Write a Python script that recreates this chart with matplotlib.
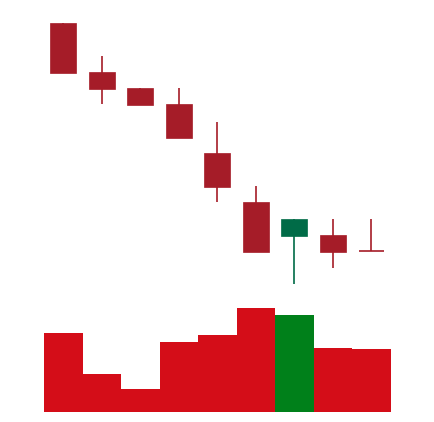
import matplotlib
matplotlib.use("Agg")
import matplotlib.pyplot as plt
import numpy as np

# Data
days = ["D1", "D2", "D3", "D4", "D5", "D6", "D7", "D8", "D9"]
opens = [39.93, 35.03, 33.43, 31.83, 26.93, 22.03, 18.60, 18.73, 17.07]
highs = [39.93, 36.63, 33.43, 33.37, 30.03, 23.57, 20.33, 20.27, 20.27]
lows = [34.93, 31.77, 31.70, 28.43, 22.03, 17.03, 13.83, 15.40, 17.07]
closes = [34.93, 33.30, 31.70, 28.43, 23.53, 17.03, 20.33, 17.00, 17.07]
volumes = [787, 377, 227, 697, 770, 1037, 967, 637, 630]

W, H = 434, 422
fig = plt.figure(figsize=(W / 100, H / 100), dpi=100)
fig.patch.set_facecolor("white")

left_px, right_px = 44, 390.7
ax_w = (right_px - left_px) / W

# price axis spans full height
ax = fig.add_axes([left_px / W, 0, ax_w, 1])
ax.set_xlim(-0.5, len(days) - 0.5)
ax.set_ylim(0, 42.2)
ax.axis("off")

# volume axis
vol_bottom_px = 422 - 411.7
vol_h_px = 110
axv = fig.add_axes([left_px / W, vol_bottom_px / H, ax_w, vol_h_px / H])
axv.set_xlim(-0.5, len(days) - 0.5)
axv.set_ylim(0, 1100)
axv.axis("off")

up_c, down_c = "#006b47", "#a51c28"
vup_c, vdown_c = "#00801a", "#d40d18"

x = np.arange(len(days))
body_w = 0.67
for i in x:
    o, h, l, c = opens[i], highs[i], lows[i], closes[i]
    col = up_c if c > o else down_c
    ax.vlines(i, l, h, color=col, linewidth=1.2, zorder=1)
    if abs(c - o) < 1e-6:
        ax.hlines(o, i - body_w / 2, i + body_w / 2, color=col, linewidth=1.2, zorder=2)
    else:
        ax.bar(i, abs(c - o), bottom=min(o, c), width=body_w, color=col,
               edgecolor=col, linewidth=0.5, zorder=2)

vcols = [vup_c if closes[i] > opens[i] else vdown_c for i in x]
axv.bar(x, volumes, width=1.0, color=vcols, linewidth=0)

fig.savefig("out.png", dpi=100, facecolor="white")
